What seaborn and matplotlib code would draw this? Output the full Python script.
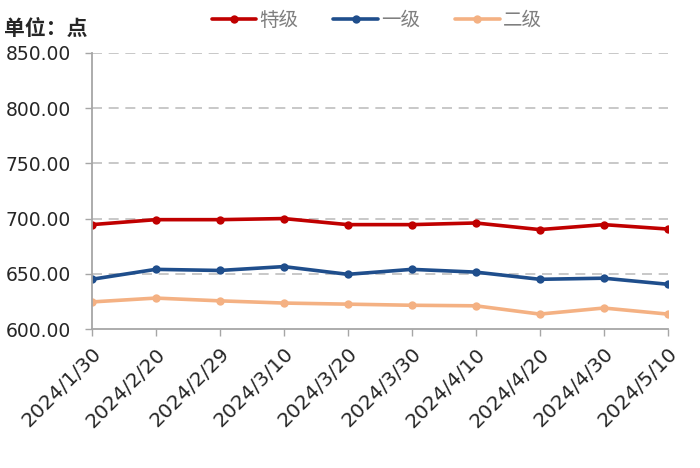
import pandas as pd
import matplotlib
matplotlib.use('Agg')
import matplotlib.pyplot as plt
import seaborn as sns

dates = ['2024/1/30', '2024/2/20', '2024/2/29', '2024/3/10', '2024/3/20',
         '2024/3/30', '2024/4/10', '2024/4/20', '2024/4/30', '2024/5/10']
special = [694.5, 699, 699, 700, 694.5, 694.5, 696, 690, 694.5, 690.5]
grade1 = [645, 654, 653, 656.5, 649.5, 654, 651.5, 645, 646, 640.5]
grade2 = [624.5, 628, 625.5, 623.5, 622.5, 621.5, 621, 613.5, 619, 613.5]
series_names = ['特级', '一级', '二级']
colors = ['#C00000', '#1F4E8C', '#F4B183']
yticks = [600, 650, 700, 750, 800, 850]

df = pd.DataFrame({
    'date': dates * 3,
    'value': special + grade1 + grade2,
    'grade': [n for n in series_names for _ in dates],
})
df['x'] = df['date'].map({d: i for i, d in enumerate(dates)})

sns.set_style('white')
plt.rcParams['font.family'] = ['DejaVu Sans', 'Noto Sans CJK SC']

fig = plt.figure(figsize=(7, 4.68), dpi=100)
ax = fig.add_axes([0.131, 0.297, 0.823, 0.59])

for y in yticks[1:]:
    ax.axhline(y, color='#BFBFBF', linestyle=(0, (6, 4)), linewidth=1.2, zorder=0)

sns.lineplot(data=df, x='x', y='value', hue='grade', hue_order=series_names,
             palette=colors, marker='o', markersize=6, markeredgewidth=0,
             linewidth=2.6, ax=ax, legend=False)

ax.set_xlim(0, len(dates) - 1)
ax.set_ylim(600, 850)
ax.set_xticks(range(len(dates)))
ax.set_xticklabels(dates, rotation=45, ha='right', rotation_mode='anchor', fontsize=14.5)
ax.set_yticks(yticks)
ax.set_yticklabels([f'{v:.2f}' for v in yticks], fontsize=13.5)
ax.set_xlabel('')
ax.set_ylabel('')
ax.tick_params(axis='both', which='both', direction='out', length=5, width=1,
               color='#A6A6A6', pad=6, left=True, bottom=True)
ax.tick_params(axis='y', pad=10)

for side in ['top', 'right']:
    ax.spines[side].set_visible(False)
for side in ['left', 'bottom']:
    ax.spines[side].set_color('#A6A6A6')
    ax.spines[side].set_linewidth(1.3)

handles = [plt.Line2D([], [], color=c, linewidth=2.6, marker='o', markersize=6,
                      markeredgewidth=0) for c in colors]
leg = fig.legend(handles, series_names, loc='center', bbox_to_anchor=(0.538, 0.957),
                 ncol=3, frameon=False, fontsize=14, handlelength=2.3,
                 columnspacing=1.8, handletextpad=0.15)
for t in leg.get_texts():
    t.set_color('#7F7F7F')

fig.text(0.006, 0.94, '单位：点', fontsize=15, fontweight='bold',
         family=['Noto Sans CJK SC'], ha='left', va='center')

fig.savefig('out.png', dpi=100)
